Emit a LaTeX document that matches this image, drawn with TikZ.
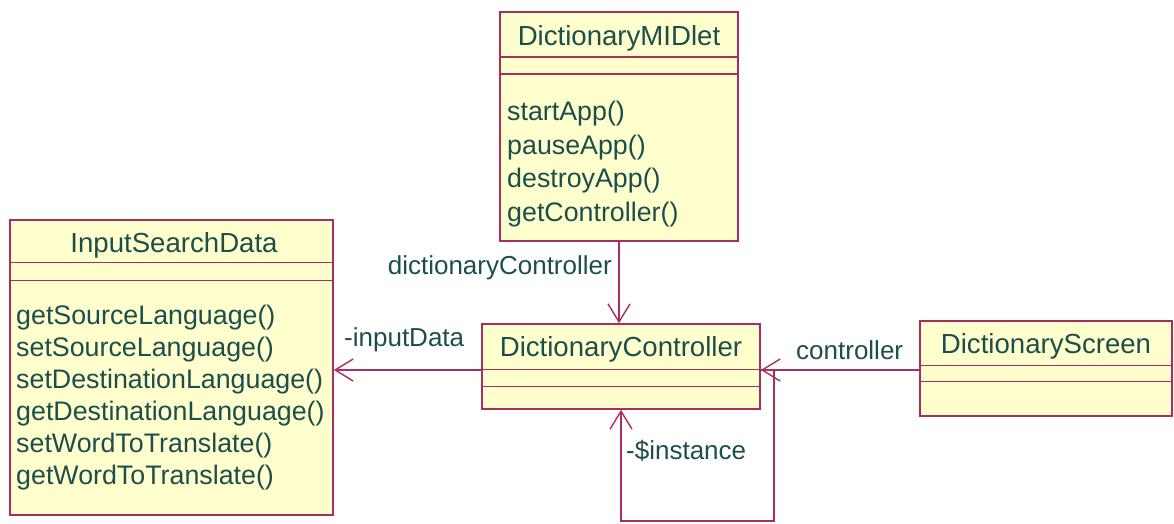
\documentclass[tikz,border=0pt]{standalone}
\usepackage{fontspec}
\setmainfont{Liberation Sans}
\usetikzlibrary{arrows.meta}
\definecolor{edge}{RGB}{170,45,95}
\definecolor{boxfill}{RGB}{255,255,206}
\definecolor{ink}{RGB}{28,78,78}
\begin{document}
\begin{tikzpicture}[x=1pt,y=-1pt,
  classbox/.style={draw=edge,fill=boxfill,line width=1.6pt,rectangle,inner sep=0pt},
  cline/.style={draw=edge,line width=1.4pt},
  txt/.style={text=ink,font=\fontsize{26}{33}\selectfont,inner sep=0pt},
  title/.style={txt,font=\fontsize{27.6}{33}\selectfont},
  meth/.style={txt,align=left,anchor=west},
  assoc/.style={draw=edge,line width=1.4pt,-{Straight Barb[length=18pt,width=22pt,line width=1.4pt]}}]
\useasboundingbox (0,0) rectangle (1174,524);
% class boxes
\node[classbox,minimum width=238pt,minimum height=229pt] (mid) at (619,126.5) {};
\node[classbox,minimum width=323pt,minimum height=295pt] (isd) at (171.5,367.5) {};
\node[classbox,minimum width=278pt,minimum height=85pt] (dc) at (621,366.5) {};
\node[classbox,minimum width=252pt,minimum height=95pt] (ds) at (1046,368.5) {};
% compartments
\draw[cline] (mid.north west) ++(0,46) -- ++(238,0);
\draw[cline] (mid.north west) ++(0,63) -- ++(238,0);
\draw[cline] (isd.north west) ++(0,43) -- ++(323,0);
\draw[cline] (isd.north west) ++(0,61) -- ++(323,0);
\draw[cline] (dc.north west) ++(0,46) -- ++(278,0);
\draw[cline] (dc.north west) ++(0,63) -- ++(278,0);
\draw[cline] (ds.north west) ++(0,45) -- ++(252,0);
\draw[cline] (ds.north west) ++(0,61) -- ++(252,0);
% titles
\node[title] (midT) at (619,38) {DictionaryMIDlet};
\node[title] (isdT) at (174,245) {InputSearchData};
\node[title] (dcT) at (621,349) {DictionaryController};
\node[title] (dsT) at (1046,346) {DictionaryScreen};
% methods
\node[meth,font=\fontsize{26.8}{33.5}\selectfont] (midM) at (507,164) {startApp()\\pauseApp()\\destroyApp()\\getController()};
\node[meth,font=\fontsize{26.8}{32}\selectfont] (isdM) at (16,398) {getSourceLanguage()\\setSourceLanguage()\\setDestinationLanguage()\\getDestinationLanguage()\\setWordToTranslate()\\getWordToTranslate()};
% associations
\coordinate (cy) at (0,370);
\draw[assoc] (mid.south) -- (mid.south |- dc.north);
\draw[assoc] (dc.west |- cy) -- (isd.east |- cy);
\draw[assoc] (ds.west |- cy) -- (dc.east |- cy);
\coordinate (l1) at (774,370);
\coordinate (l2) at (774,521);
\coordinate (l3) at (621,521);
\draw[assoc] (dc.east |- cy) -- (l1) -- (l2) -- (l3) -- (dc.south);
% labels
\node[txt,anchor=east] (lblDC) at (612,268) {dictionaryController};
\node[txt,anchor=west] (lblIn) at (344,340) {-inputData};
\node[txt,anchor=west] (lblCt) at (796,350) {controller};
\node[txt,anchor=west] (lblIns) at (626,451) {-\$instance};
\end{tikzpicture}
\end{document}
